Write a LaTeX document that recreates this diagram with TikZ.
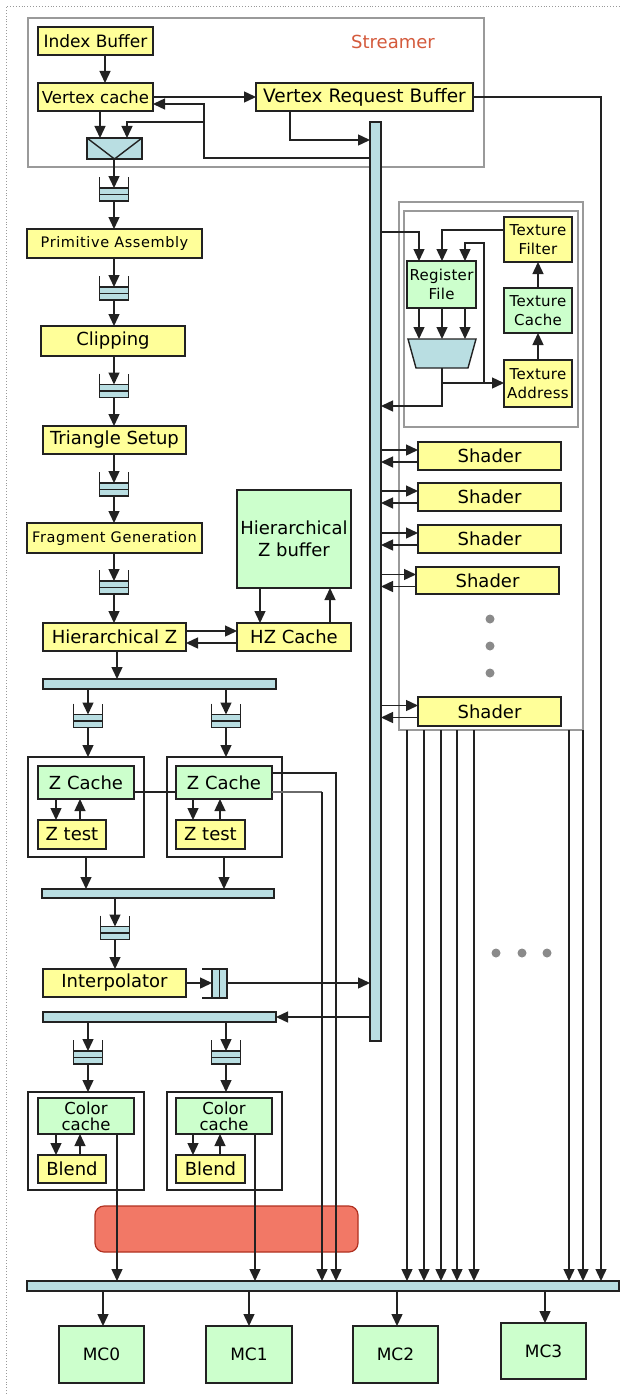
\documentclass[tikz,border=0pt]{standalone}
\usepackage{fontspec}
\setmainfont{DejaVu Sans}
\newfontfamily\spacedfont[LetterSpace=4]{DejaVu Sans}
\newfontfamily\texfont[LetterSpace=2]{DejaVu Sans}
\usetikzlibrary{arrows.meta,calc}
\definecolor{yel}{HTML}{FFFF99}
\definecolor{grn}{HTML}{CCFFCC}
\definecolor{blu}{HTML}{B9DEE2}
\definecolor{ln}{HTML}{222222}
\definecolor{gframe}{HTML}{9A9A9A}
\definecolor{redfill}{HTML}{F27866}
\definecolor{redline}{HTML}{B03020}
\definecolor{strm}{HTML}{D45A3C}
\definecolor{dotc}{HTML}{999999}
\definecolor{dotgray}{HTML}{8A8A8A}
\definecolor{lgline}{HTML}{6A6A6A}
\newcommand{\bx}[7]{%
  \pgfmathsetmacro{\bxw}{#5-#3}%
  \pgfmathsetmacro{\bxh}{#6-#4}%
  \pgfmathsetmacro{\bxx}{(#3+#5)/2}%
  \pgfmathsetmacro{\bxy}{(#4+#6)/2}%
  \node[#1, minimum width=\bxw pt, minimum height=\bxh pt] (#2) at (\bxx,\bxy) {#7};%
}
\newcommand{\qv}[3]{%
  \node[inner sep=0pt, outer sep=0pt, minimum width=29pt, minimum height=24pt] (#1) at (#2,#3) {};
  \filldraw[fill=blu, draw=ln, line width=1.1pt] (#2-14.5,#3-1) rectangle (#2+14.5,#3+12);
  \draw[ln, line width=1.1pt] (#2-14.5,#3+5.5) -- (#2+14.5,#3+5.5);
  \draw[ln, line width=1.3pt] (#2-14.5,#3-12) -- (#2-14.5,#3+12) -- (#2+14.5,#3+12) -- (#2+14.5,#3-12);
  \coordinate (#1-in) at (#2,#3-1);%
}
\begin{document}
\begin{tikzpicture}[x=1pt,y=-1pt,
  base/.style={draw=ln, line width=1.4pt, inner sep=0pt, outer sep=0pt, align=center},
  ybox/.style={base, fill=yel, font=\fontsize{18}{20}\selectfont},
  gnode/.style={base, fill=grn, font=\fontsize{18}{20}\selectfont},
  barn/.style={base, fill=blu},
  grpbox/.style={base, fill=white},
  conn/.style={draw=ln, line width=1.4pt},
  arr/.style={conn, -{Triangle[length=12pt,width=11pt]}},
  gframe/.style={draw=gframe, line width=1.5pt},
  spaced/.style={font=\spacedfont\fontsize{14.5}{16}\selectfont},
  texlbl/.style={font=\texfont\fontsize{15}{19}\selectfont},
]
\useasboundingbox (0,0) rectangle (621,1394);
\fill[white] (0,0) rectangle (621,1394);
\draw[dotc, dotted, line width=0.9pt] (6,1394) -- (6,6) -- (621,6);

% ---------- Streamer ----------
\draw[gframe] (28,18) rectangle (484,167);
\node[text=strm, font=\fontsize{18}{20}\selectfont] (st) at (393,42) {Streamer};
\bx{ybox,font=\fontsize{17}{18}\selectfont}{ib}{38}{27}{153}{55}{Index Buffer}
\bx{ybox,font=\fontsize{16.5}{18}\selectfont}{vc}{38}{83}{153}{111}{Vertex cache}
\bx{ybox,font=\fontsize{18.5}{20}\selectfont}{vrb}{256}{83}{473}{111}{Vertex Request Buffer}
\bx{barn}{mx}{87}{138}{142}{159}{}
\draw[conn] (mx.north west) -- (mx.south) -- (mx.north east);

% ---------- main bus ----------
\bx{barn}{bus}{370}{122}{381}{1041}{}

% ---------- bottom bus and red box ----------
\draw[draw=redline, fill=redfill, line width=1.2pt, rounded corners=9pt] (95,1206) rectangle (358,1252);
\bx{barn}{bbus}{27}{1281}{619}{1291}{}

\draw[arr] (105,0 |- ib.south) -- (105,0 |- vc.north);
\draw[arr] (vc.east) -- (vrb.west);
\draw[arr] (100,0 |- vc.south) -- (100,0 |- mx.north);
\draw[arr] (bus.west |- 0,158) -- (204,158) -- (204,104) -- (vc.east |- 0,104);
\draw[arr] (204,122) -- (127,122) -- (127,0 |- mx.north);
\draw[arr] (290,0 |- vrb.south) -- (290,140) -- (bus.west |- 0,140);
\draw[arr] (vrb.east) -- (601,97) -- (601,0 |- bbus.north);

% ---------- pipeline ----------
\qv{q1}{114}{189}
\bx{ybox,spaced}{pa}{27}{229}{202}{258}{Primitive Assembly}
\qv{q2}{114}{288}
\bx{ybox}{clip}{41}{326}{185}{356}{Clipping}
\qv{q3}{114}{385.5}
\bx{ybox}{ts}{43}{426}{186}{454}{Triangle Setup}
\qv{q4}{114}{484}
\bx{ybox,spaced}{fg}{27}{523}{202}{553}{Fragment Generation}
\qv{q5}{114}{582}
\bx{ybox}{hz}{43}{623}{186}{651}{Hierarchical Z}
\bx{ybox}{hzc}{237}{623}{351}{651}{HZ Cache}
\bx{gnode,font=\fontsize{18}{22}\selectfont}{hzb}{237}{490}{351}{588}{Hierarchical\\Z buffer}

\draw[arr] (114,0 |- mx.south) -- (q1-in);
\draw[arr] (114,0 |- q1.south) -- (114,0 |- pa.north);
\draw[arr] (114,0 |- pa.south) -- (q2-in);
\draw[arr] (114,0 |- q2.south) -- (114,0 |- clip.north);
\draw[arr] (114,0 |- clip.south) -- (q3-in);
\draw[arr] (114,0 |- q3.south) -- (114,0 |- ts.north);
\draw[arr] (114,0 |- ts.south) -- (q4-in);
\draw[arr] (114,0 |- q4.south) -- (114,0 |- fg.north);
\draw[arr] (114,0 |- fg.south) -- (q5-in);
\draw[arr] (114,0 |- q5.south) -- (114,0 |- hz.north);
\draw[arr] (hz.east |- 0,631) -- (hzc.west |- 0,631);
\draw[arr] (hzc.west |- 0,643) -- (hz.east |- 0,643);
\draw[arr] (260,0 |- hzb.south) -- (260,0 |- hzc.north);
\draw[arr] (330,0 |- hzc.north) -- (330,0 |- hzb.south);

\bx{barn}{b1}{43}{679}{276}{689}{}
\draw[arr] (117,0 |- hz.south) -- (117,0 |- b1.north);
\qv{qa}{88}{715.5}
\qv{qb}{226}{715.5}
\draw[arr] (88,0 |- b1.south) -- (qa-in);
\draw[arr] (226,0 |- b1.south) -- (qb-in);

% ---------- Z units ----------
\bx{grpbox}{zg1}{28}{757}{144}{857}{}
\bx{grpbox}{zg2}{167}{757}{282}{857}{}
\bx{gnode}{zc1}{38}{766}{134}{799}{Z Cache}
\bx{gnode}{zc2}{176}{766}{272}{799}{Z Cache}
\draw[conn] (zc1.east |- 0,792) -- (zc2.west |- 0,792);
\bx{ybox}{zt1}{38}{820}{106}{849}{Z test}
\bx{ybox}{zt2}{176}{820}{245}{849}{Z test}
\draw[arr] (88,0 |- qa.south) -- (88,0 |- zg1.north);
\draw[arr] (226,0 |- qb.south) -- (226,0 |- zg2.north);
\draw[arr] (56,0 |- zc1.south) -- (56,0 |- zt1.north);
\draw[arr] (80,0 |- zt1.north) -- (80,0 |- zc1.south);
\draw[arr] (193,0 |- zc2.south) -- (193,0 |- zt2.north);
\draw[arr] (220,0 |- zt2.north) -- (220,0 |- zc2.south);
\draw[conn, draw=lgline] (zc2.east |- 0,792) -- (322,792);
\draw[arr] (322,792) -- (322,0 |- bbus.north);
\draw[arr] (zc2.east |- 0,773) -- (336,773) -- (336,0 |- bbus.north);

\bx{barn}{b2}{42}{889}{274}{898}{}
\draw[arr] (86,0 |- zg1.south) -- (86,0 |- b2.north);
\draw[arr] (224,0 |- zg2.south) -- (224,0 |- b2.north);
\qv{qc}{115}{927.5}
\draw[arr] (115,0 |- b2.south) -- (qc-in);
\bx{ybox}{ip}{43}{969}{186}{997}{Interpolator}
\draw[arr] (115,0 |- qc.south) -- (115,0 |- ip.north);
% horizontal queue
\node[inner sep=0pt, outer sep=0pt, minimum width=25pt, minimum height=29pt] (qh) at (214.5,983.5) {};
\filldraw[fill=blu, draw=ln, line width=1.1pt] (212,969) rectangle (227,998);
\draw[ln, line width=1.1pt] (219.5,969) -- (219.5,998);
\draw[ln, line width=1.3pt] (202,969) -- (227,969) -- (227,998) -- (202,998);
\draw[arr] (ip.east) -- (212,983);
\draw[arr] (qh.east |- 0,983) -- (bus.west |- 0,983);

\bx{barn}{b3}{43}{1012}{276}{1022}{}
\draw[arr] (bus.west |- 0,1017) -- (b3.east);
\qv{qd}{88}{1052}
\qv{qe}{226}{1052}
\draw[arr] (88,0 |- b3.south) -- (qd-in);
\draw[arr] (226,0 |- b3.south) -- (qe-in);

% ---------- color units ----------
\bx{grpbox}{cg1}{28}{1092}{144}{1190}{}
\bx{grpbox}{cg2}{167}{1092}{282}{1190}{}
\bx{gnode,font=\fontsize{16.5}{16}\selectfont}{cc1}{38}{1098}{134}{1134}{Color\\cache}
\bx{gnode,font=\fontsize{16.5}{16}\selectfont}{cc2}{176}{1098}{272}{1134}{Color\\cache}
\bx{ybox}{bl1}{38}{1155}{106}{1183}{Blend}
\bx{ybox}{bl2}{176}{1155}{245}{1183}{Blend}
\draw[arr] (88,0 |- qd.south) -- (88,0 |- cg1.north);
\draw[arr] (226,0 |- qe.south) -- (226,0 |- cg2.north);
\draw[arr] (56,0 |- cc1.south) -- (56,0 |- bl1.north);
\draw[arr] (80,0 |- bl1.north) -- (80,0 |- cc1.south);
\draw[arr] (193,0 |- cc2.south) -- (193,0 |- bl2.north);
\draw[arr] (220,0 |- bl2.north) -- (220,0 |- cc2.south);
\draw[arr] (117,0 |- cc1.south) -- (117,0 |- bbus.north);
\draw[arr] (255,0 |- cc2.south) -- (255,0 |- bbus.north);

% ---------- shader cluster ----------
\draw[gframe] (399,202) rectangle (583,730);
\draw[gframe] (404,211) rectangle (578,427);
\bx{gnode,texlbl}{rf}{407}{261}{476}{308}{Register\\File}
\bx{ybox,texlbl}{tf}{504}{217}{572}{262}{Texture\\Filter}
\bx{gnode,texlbl}{tc}{504}{288}{572}{333}{Texture\\Cache}
\bx{ybox,texlbl}{ta}{504}{360}{572}{407}{Texture\\Address}
\node[inner sep=0pt, outer sep=0pt, minimum width=68pt, minimum height=29pt] (mux2) at (442,353.5) {};
\filldraw[fill=blu, draw=ln, line width=1.4pt] (mux2.north west) -- (mux2.north east) -- ($(mux2.south east)+(-8,0)$) -- ($(mux2.south west)+(8,0)$) -- cycle;
\draw[arr] (419,0 |- rf.south) -- (419,0 |- mux2.north);
\draw[arr] (442,0 |- rf.south) -- (442,0 |- mux2.north);
\draw[arr] (465,0 |- rf.south) -- (465,0 |- mux2.north);
\draw[arr] (bus.east |- 0,232) -- (419,232) -- (419,0 |- rf.north);
\draw[arr] (tf.west |- 0,230) -- (442,230) -- (442,0 |- rf.north);
\draw[arr] (mux2.south) -- (442,406) -- (bus.east |- 0,406);
\draw[arr] (442,383) -- (ta.west |- 0,383);
\draw[arr] (484,383) -- (484,243) -- (465,243) -- (465,0 |- rf.north);
\draw[arr] (538,0 |- ta.north) -- (538,0 |- tc.south);
\draw[arr] (538,0 |- tc.north) -- (538,0 |- tf.south);

\bx{ybox}{s1}{418}{442}{561}{470}{Shader}
\bx{ybox}{s2}{418}{483}{561}{511}{Shader}
\bx{ybox}{s3}{418}{525}{561}{553}{Shader}
\bx{ybox}{s4}{416}{567}{559}{594}{Shader}
\bx{ybox}{s5}{418}{697}{561}{726}{Shader}
\foreach \s in {s1,s2,s3,s4,s5}{
  \draw[arr] ($(bus.east |- \s.west)+(0,-6)$) -- ($(\s.west)+(0,-6)$);
  \draw[arr] ($(\s.west)+(0,6)$) -- ($(bus.east |- \s.west)+(0,6)$);
}
\foreach \yy in {619,646,673}{\fill[dotgray] (490,\yy) circle[radius=4.5pt];}
\foreach \xx in {496,522,547}{\fill[dotgray] (\xx,953) circle[radius=4.5pt];}
\foreach \xx in {407,424,441,457,474,569,583}{
  \draw[arr] (\xx,730) -- (\xx,0 |- bbus.north);
}

% ---------- memory controllers ----------
\bx{gnode,font=\fontsize{17}{18}\selectfont}{mc0}{59}{1326}{144}{1383}{MC0}
\bx{gnode,font=\fontsize{17}{18}\selectfont}{mc1}{206}{1326}{292}{1383}{MC1}
\bx{gnode,font=\fontsize{17}{18}\selectfont}{mc2}{353}{1326}{438}{1383}{MC2}
\bx{gnode,font=\fontsize{17}{18}\selectfont}{mc3}{501}{1323}{586}{1379}{MC3}
\draw[arr] (103,0 |- bbus.south) -- (103,0 |- mc0.north);
\draw[arr] (249,0 |- bbus.south) -- (249,0 |- mc1.north);
\draw[arr] (397,0 |- bbus.south) -- (397,0 |- mc2.north);
\draw[arr] (545,0 |- bbus.south) -- (545,0 |- mc3.north);
\end{tikzpicture}
\end{document}
